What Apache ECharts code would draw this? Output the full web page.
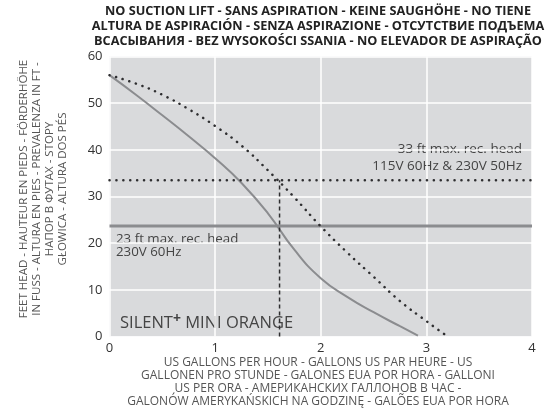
<!DOCTYPE html>
<html><head><meta charset="utf-8">
<script src="https://cdn.jsdelivr.net/npm/echarts@6/dist/echarts.min.js"></script>
<style>html,body{margin:0;padding:0;background:#fff}#c{width:547px;height:410px}</style>
</head><body><div id="c"></div>
<script>
const xTicks = [0, 1, 2, 3, 4];
const yTicks = [0, 10, 20, 30, 40, 50, 60];
const solidCurve = [[0,56],[0.25,51.8],[0.5,47.4],[0.75,42.9],[1,38.2],[1.25,32.9],[1.5,26.4],[1.75,18.6],[2,12.5],[2.25,8.5],[2.5,5.2],[2.75,2.2],[2.92,0.2]];
const dottedCurve = [[0,56],[0.25,54.2],[0.5,51.8],[0.75,48.7],[1,45.1],[1.25,40.9],[1.5,35.6],[1.75,29.8],[2,23.6],[2.25,18],[2.5,12.8],[2.75,7.6],[3,3.3],[3.17,0.5]];
const headMax115 = 33.5;   // 33 ft max. rec. head
const headMax230 = 23.7;   // 23 ft max. rec. head
const crossFlow = 1.61;

const F = '"Open Sans", "Noto Sans", sans-serif';
const chart = echarts.init(document.getElementById('c'), null, {renderer:'canvas'});
chart.setOption({
  animation:false,
  backgroundColor:'#fff',
  grid:{left:109.5, right:15, top:56.5, bottom:73.5, show:true, backgroundColor:'#d9dadc', borderWidth:0},
  xAxis:{type:'value', min:xTicks[0], max:xTicks[xTicks.length-1], interval:1,
    axisLine:{show:false}, axisTick:{show:false},
    splitLine:{show:true, lineStyle:{color:'#ffffff', width:1.5}},
    axisLabel:{color:'#333', fontSize:13, fontFamily:F, margin:5}},
  yAxis:{type:'value', min:yTicks[0], max:yTicks[yTicks.length-1], interval:10,
    axisLine:{show:false}, axisTick:{show:false},
    splitLine:{show:true, lineStyle:{color:'#ffffff', width:1.5}},
    axisLabel:{color:'#333', fontSize:13, fontFamily:F, margin:7}},
  series:[
    {type:'line', data:[[xTicks[0],headMax230],[xTicks[4],headMax230]], symbol:'none',
      lineStyle:{color:'#8b8c8f', width:3}},
    {type:'line', data:solidCurve, smooth:0.5, symbol:'none',
      lineStyle:{color:'#8b8c8f', width:2}},
    {type:'line', data:[[xTicks[0],headMax115],[xTicks[4],headMax115]], symbol:'none',
      lineStyle:{color:'#2e2e30', width:2.5, type:[0.1,6.8], cap:'round'}},
    {type:'line', data:dottedCurve, smooth:0.5, symbol:'none',
      lineStyle:{color:'#2e2e30', width:2.5, type:[0.1,6.8], cap:'round'}},
    {type:'line', data:[[crossFlow,0],[crossFlow,headMax115]], symbol:'none',
      lineStyle:{color:'#2e2e30', width:1.5, type:[4,3]}}
  ],
  graphic:[
    {type:'text', x:318, y:4, style:{text:'NO SUCTION LIFT - SANS ASPIRATION - KEINE SAUGHÖHE - NO TIENE\nALTURA DE ASPIRACIÓN - SENZA ASPIRAZIONE - ОТСУТСТВИЕ ПОДЪЕМА\nВСАСЫВАНИЯ - BEZ WYSOKOŚCI SSANIA - NO ELEVADOR DE ASPIRAÇÃO',
      font:'bold 12.7px '+F, fill:'#222', align:'center', lineHeight:15}},
    {type:'text', x:318, y:356, style:{text:'US GALLONS PER HOUR - GALLONS US PAR HEURE - US\nGALLONEN PRO STUNDE - GALONES EUA POR HORA - GALLONI\nUS PER ORA - АМЕРИКАНСКИХ ГАЛЛОНОВ В ЧАС -\nGALONÓW AMERYKAŃSKICH NA GODZINĘ - GALÕES EUA POR HORA',
      font:'12px '+F, fill:'#555', align:'center', lineHeight:13}},
    {type:'text', x:17.5, y:189, rotation:Math.PI/2, style:{text:'FEET HEAD - HAUTEUR EN PIEDS - FÖRDERHÖHE\nIN FUSS - ALTURA EN PIES - PREVALENZA IN FT -\nНАПОР В ФУТАХ - STOPY\nGŁOWICA - ALTURA DOS PÉS',
      font:'11.5px '+F, fill:'#555', align:'center', verticalAlign:'top', lineHeight:13}},
    {type:'text', x:522, y:141, style:{text:'33 ft max. rec. head\n115V 60Hz & 230V 50Hz', font:'13.5px '+F, fill:'#444', align:'right', lineHeight:16.5}},
    {type:'text', x:116, y:233, style:{text:'23 ft max. rec. head\n230V 60Hz', font:'13.3px '+F, fill:'#444', align:'left', lineHeight:12.5}},
    {type:'text', x:120, y:312, style:{text:'{a|SILENT}{s|+}{a| MINI ORANGE}', rich:{a:{font:'16.5px '+F, fill:'#444'}, s:{font:'bold 14px '+F, fill:'#444', verticalAlign:'top', padding:[0,0,8,0]}}}}
  ]
});
</script></body></html>
